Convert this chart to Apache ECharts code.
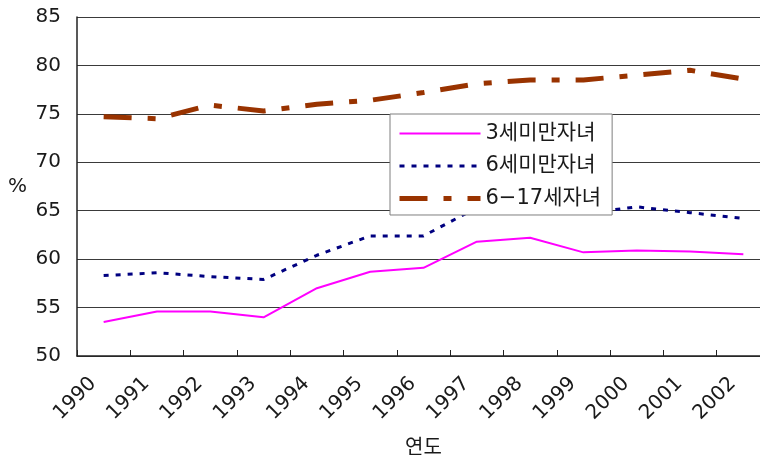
<!DOCTYPE html>
<html>
<head>
<meta charset="utf-8">
<script src="https://cdn.jsdelivr.net/npm/echarts@6/dist/echarts.min.js"></script>
<style>
  html, body { margin: 0; padding: 0; background: #fff; }
  #chart { width: 760px; height: 459px; }
</style>
</head>
<body>
<div id="chart"></div>
<script>
// Years on the category axis
const years = ['1990', '1991', '1992', '1993', '1994', '1995', '1996',
               '1997', '1998', '1999', '2000', '2001', '2002'];

// Share (%) by age group of the youngest child
const under3 = [53.5, 54.6, 54.6, 54.0, 57.0, 58.7, 59.1, 61.8, 62.2, 60.7, 60.9, 60.8, 60.5];
const under6 = [58.3, 58.6, 58.2, 57.9, 60.4, 62.4, 62.4, 65.3, 65.1, 64.7, 65.4, 64.8, 64.2];
const age6to17 = [74.7, 74.5, 75.9, 75.3, 76.0, 76.4, 77.2, 78.1, 78.5, 78.5, 79.0, 79.5, 78.6];

const seriesNames = ['3세미만자녀', '6세미만자녀', '6−17세자녀'];

const FONT = "'DejaVu Sans', 'Noto Sans CJK KR', sans-serif";
const TEXT_COLOR = '#1a1a1a';

// Line styles shared by each series and its legend sample
const styles = [
  { color: '#ff00ff', width: 2, type: 'solid', cap: 'butt' },
  { color: '#000080', width: 3, type: [5, 7], cap: 'butt' },
  { color: '#993300', width: 5, type: [28, 16, 8, 16], cap: 'butt' }
];
const values = [under3, under6, age6to17];

const chart = echarts.init(document.getElementById('chart'), null, { renderer: 'canvas' });

chart.setOption({
  animation: false,
  backgroundColor: '#ffffff',
  textStyle: { fontFamily: FONT },
  grid: {
    left: 77, top: 17, width: 693, height: 339,
    containLabel: false,
    outerBoundsMode: 'none'
  },
  legend: {
    left: 390,
    top: 114,
    orient: 'vertical',
    data: seriesNames.map((name, i) => ({
      name: name,
      itemStyle: { opacity: 0 },
      lineStyle: Object.assign({}, styles[i])
    })),
    backgroundColor: '#ffffff',
    borderColor: '#7f7f7f',
    borderWidth: 1,
    padding: [9, 11, 6, 7],
    itemWidth: 81,
    itemHeight: 20,
    itemGap: 11.5,
    textStyle: { fontFamily: FONT, fontSize: 21, color: TEXT_COLOR }
  },
  xAxis: {
    type: 'category',
    data: years,
    boundaryGap: true,
    name: '연도',
    nameLocation: 'middle',
    nameGap: 83,
    nameTextStyle: { fontFamily: FONT, fontSize: 20, color: TEXT_COLOR },
    axisLine: { lineStyle: { color: '#222', width: 1.5 } },
    axisTick: { show: true, inside: true, length: 6, lineStyle: { color: '#222', width: 1 } },
    axisLabel: {
      rotate: 45,
      margin: 14,
      padding: [0, 15, 0, 0],
      fontFamily: FONT,
      fontSize: 20,
      color: TEXT_COLOR
    },
    splitLine: { show: false }
  },
  yAxis: {
    type: 'value',
    min: 50,
    max: 85,
    interval: 5,
    name: '%',
    nameLocation: 'middle',
    nameRotate: 0,
    nameGap: 50,
    nameTextStyle: { fontFamily: FONT, fontSize: 20, color: TEXT_COLOR },
    axisLine: { show: true, lineStyle: { color: '#222', width: 1.5 } },
    axisTick: { show: false },
    axisLabel: { margin: 16, fontFamily: FONT, fontSize: 20, color: TEXT_COLOR },
    splitLine: { show: true, lineStyle: { color: '#3a3a3a', width: 1 } }
  },
  series: seriesNames.map((name, i) => ({
    name: name,
    type: 'line',
    data: values[i],
    symbol: 'none',
    lineStyle: Object.assign({}, styles[i]),
    itemStyle: { color: styles[i].color }
  }))
});
</script>
</body>
</html>
